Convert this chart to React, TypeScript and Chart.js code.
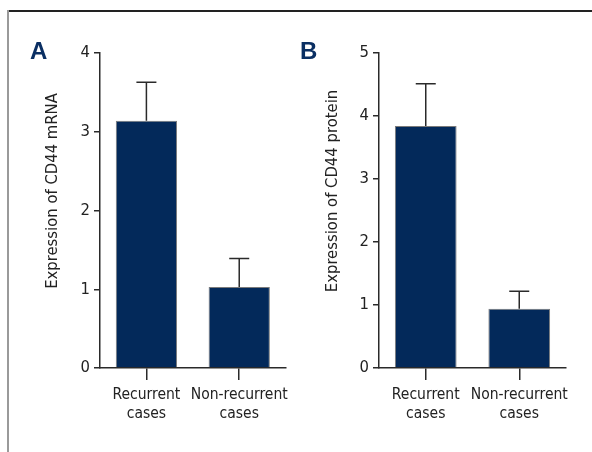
import React, { useEffect, useRef } from "react";
import { Chart, registerables } from "chart.js";

Chart.register(...registerables);

const categories: string[][] = [["Recurrent", "cases"], ["Non-recurrent", "cases"]];

const mrnaMeans = [3.14, 1.03];
const mrnaUpper = [3.63, 1.39];
const mrnaTicksMax = 4;

const proteinMeans = [3.84, 0.94];
const proteinUpper = [4.51, 1.22];
const proteinTicksMax = 5;

const FONT = "'Liberation Sans Narrow', 'DejaVu Sans Condensed', sans-serif";
const BAR_COLOR = "#03295a";
const AXIS_COLOR = "#2a2a2a";

const errorBarPlugin = {
  id: "errorBars",
  afterDatasetsDraw(chart: any, _args: any, opts: any) {
    const upper: number[] = opts.upper || [];
    const meta = chart.getDatasetMeta(0);
    const yScale = chart.scales.y;
    const ctx = chart.ctx;
    ctx.save();
    ctx.strokeStyle = AXIS_COLOR;
    ctx.lineWidth = 1.5;
    meta.data.forEach((bar: any, i: number) => {
      const top = yScale.getPixelForValue(upper[i]);
      const x = bar.x;
      ctx.beginPath();
      ctx.moveTo(x, bar.y);
      ctx.lineTo(x, top);
      ctx.moveTo(x - 10, top);
      ctx.lineTo(x + 10, top);
      ctx.stroke();
    });
    ctx.restore();
  },
};

const yTitlePlugin = {
  id: "yTitle",
  afterDraw(chart: any, _args: any, opts: any) {
    const ctx = chart.ctx;
    ctx.save();
    ctx.translate(opts.x, opts.y);
    ctx.rotate(-Math.PI / 2);
    ctx.font = `16.5px ${FONT}`;
    ctx.fillStyle = "#222";
    ctx.textAlign = "center";
    ctx.textBaseline = "middle";
    ctx.fillText(opts.text, 0, 0);
    ctx.restore();
  },
};

type PanelProps = {
  means: number[];
  upper: number[];
  max: number;
  title: string;
  left: number;
  axisLeft: number;
  padRight: number;
  titleX: number;
};

function Panel({ means, upper, max, title, left, axisLeft, padRight, titleX }: PanelProps) {
  const ref = useRef<HTMLCanvasElement>(null);
  useEffect(() => {
    const chart = new Chart(ref.current as HTMLCanvasElement, {
      type: "bar",
      data: {
        labels: categories,
        datasets: [
          {
            data: means,
            backgroundColor: BAR_COLOR,
            borderColor: "#7a7a7a",
            borderWidth: 1,
            barPercentage: 0.66,
            categoryPercentage: 1,
          },
        ],
      },
      options: {
        responsive: false,
        animation: false,
        layout: { padding: { top: 53, right: padRight, left: 0, bottom: 0 } },
        plugins: {
          legend: { display: false },
          tooltip: { enabled: false },
          errorBars: { upper },
          yTitle: { text: title, x: titleX, y: 191 },
        } as any,
        scales: {
          x: {
            type: "category",
            offset: true,
            grid: {
              display: true,
              offset: false,
              drawOnChartArea: false,
              drawTicks: true,
              tickLength: 12,
              color: AXIS_COLOR,
              lineWidth: 1.5,
            },
            border: { display: true, color: AXIS_COLOR, width: 1.5 },
            ticks: {
              padding: 6,
              color: "#222",
              font: { family: FONT, size: 15.5, lineHeight: 1.2 },
              maxRotation: 0,
              autoSkip: false,
            },
            afterFit(scale: any) {
              scale.height = 84;
            },
          },
          y: {
            min: 0,
            max,
            grid: {
              display: true,
              drawOnChartArea: false,
              drawTicks: true,
              tickLength: 6,
              color: AXIS_COLOR,
              lineWidth: 1.5,
            },
            border: { display: true, color: AXIS_COLOR, width: 1.5 },
            ticks: {
              stepSize: 1,
              padding: 4,
              color: "#222",
              font: { family: FONT, size: 16.5 },
            },
            afterFit(scale: any) {
              scale.width = axisLeft;
            },
          },
        },
      },
      plugins: [errorBarPlugin, yTitlePlugin],
    });
    return () => chart.destroy();
  }, []);
  return (
    <canvas
      ref={ref}
      width={296}
      height={452}
      style={{ position: "absolute", left, top: 0, width: 296, height: 452 }}
    />
  );
}

const panelLetter: React.CSSProperties = {
  position: "absolute",
  fontFamily: "'Liberation Sans', Arial, sans-serif",
  fontWeight: 700,
  fontSize: 24,
  lineHeight: "24px",
  color: "#0a2f63",
};

export default function App() {
  return (
    <div
      style={{
        position: "fixed",
        left: 0,
        top: 0,
        width: 592,
        height: 452,
        background: "#fff",
        overflow: "hidden",
      }}
    >
      <div style={{ position: "absolute", left: 7, top: 10, width: 585, height: 2, background: "#222" }} />
      <div style={{ position: "absolute", left: 7, top: 10, width: 2, height: 442, background: "#9a9a9a" }} />
      <Panel
        means={mrnaMeans}
        upper={mrnaUpper}
        max={mrnaTicksMax}
        title="Expression of CD44 mRNA"
        left={0}
        axisLeft={100}
        padRight={9}
        titleX={53}
      />
      <Panel
        means={proteinMeans}
        upper={proteinUpper}
        max={proteinTicksMax}
        title="Expression of CD44 protein"
        left={296}
        axisLeft={83}
        padRight={26}
        titleX={37}
      />
      <div style={{ ...panelLetter, left: 30, top: 39 }}>A</div>
      <div style={{ ...panelLetter, left: 300, top: 39 }}>B</div>
    </div>
  );
}
